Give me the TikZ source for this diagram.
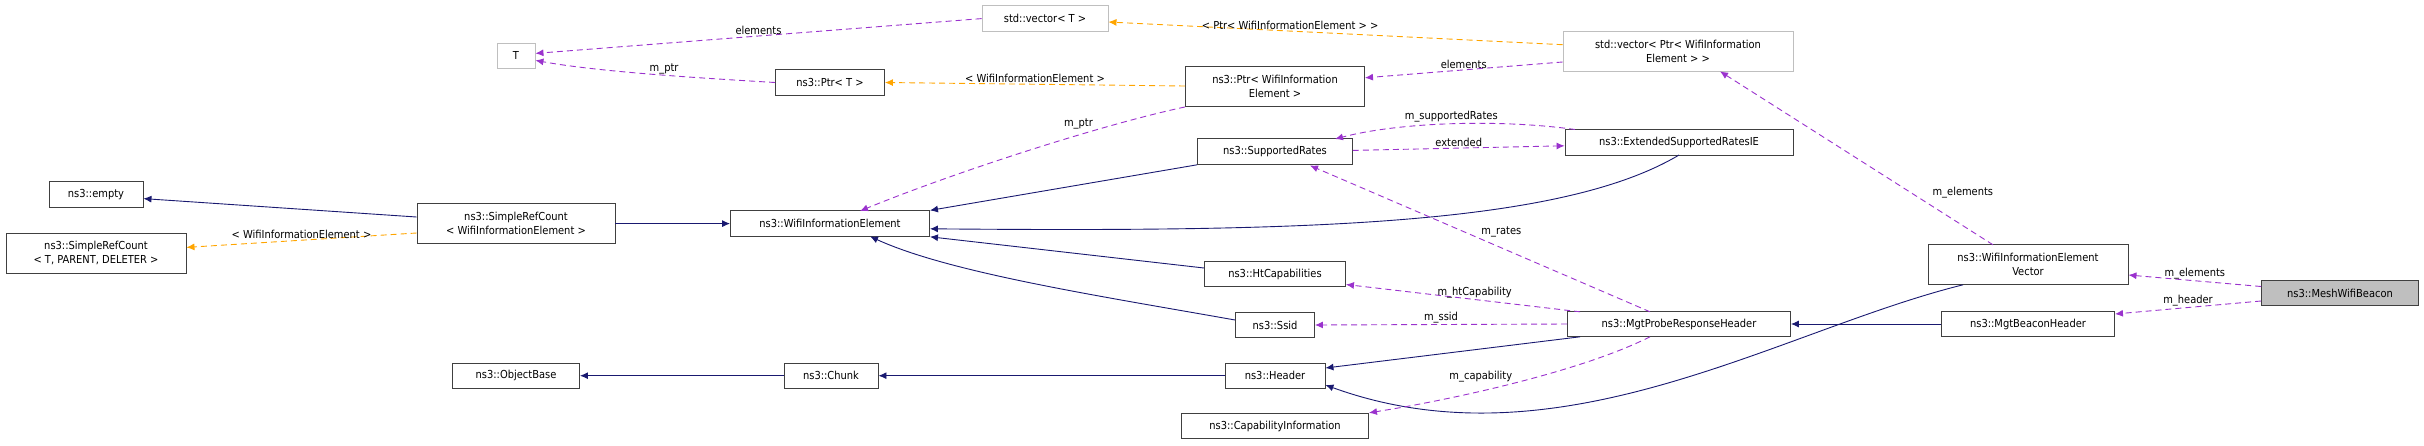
\documentclass[tikz,border=0pt]{standalone}
\usepackage{fontspec}
\setmainfont{DejaVu Sans Condensed}
\usetikzlibrary{arrows.meta}
\definecolor{inh}{HTML}{191970}
\definecolor{use}{HTML}{9A32CD}
\definecolor{tpl}{HTML}{FFA500}
\begin{document}
\begin{tikzpicture}[x=1pt,y=-1pt,
  every node/.style={font=\fontsize{11}{14}\selectfont},
  box/.style={draw=black!75,line width=0.9pt,fill=white,align=center,inner sep=0pt},
  gbox/.style={box,draw=black!25},
  inh/.style={draw=inh,line width=0.9pt,-{Latex[length=8pt,width=7pt]}},
  use/.style={draw=use,line width=0.9pt,dash pattern=on 6pt off 4pt,-{Latex[length=8pt,width=7pt]}},
  tpl/.style={draw=tpl,line width=0.9pt,dash pattern=on 6pt off 4pt,-{Latex[length=8pt,width=7pt]}},
  lab/.style={inner sep=1pt}]
\useasboundingbox (0,0) rectangle (2424,445);
\newcommand{\bx}[6]{\node[#1,minimum width=#4pt,minimum height=#5pt] (#2) at (#3) {#6};}
\bx{gbox}{T}{516,55.7}{38}{25.5}{T}
\bx{box}{ptrT}{830,82.5}{109}{25.5}{ns3::Ptr< T >}
\bx{box}{empty}{96,194.5}{94}{25.5}{ns3::empty}
\bx{box}{srcT}{96,253}{180}{40}{ns3::SimpleRefCount\\< T, PARENT, DELETER >}
\bx{box}{srcW}{516,223.6}{198}{40}{ns3::SimpleRefCount\\< WifiInformationElement >}
\bx{box}{wie}{830,223.6}{199}{25.5}{ns3::WifiInformationElement}
\bx{box}{ob}{516,375.7}{127}{25.5}{ns3::ObjectBase}
\bx{box}{chunk}{831,375.7}{94}{25.5}{ns3::Chunk}
\bx{gbox}{vecT}{1045,18.6}{126}{25.5}{std::vector< T >}
\bx{box}{ptrW}{1275,86.5}{179}{40}{ns3::Ptr< WifiInformation\\Element >}
\bx{gbox}{vecP}{1678,51.7}{230}{40}{std::vector< Ptr< WifiInformation\\Element > >}
\bx{box}{sr}{1275,151.6}{155}{25.5}{ns3::SupportedRates}
\bx{box}{esr}{1679,142.3}{228}{25.5}{ns3::ExtendedSupportedRatesIE}
\bx{box}{ht}{1275,274}{141}{25.5}{ns3::HtCapabilities}
\bx{box}{ssid}{1275,325}{79}{25.5}{ns3::Ssid}
\bx{box}{hdr}{1275,375.7}{100}{25.5}{ns3::Header}
\bx{box}{cap}{1275,426}{187}{25.5}{ns3::CapabilityInformation}
\bx{box}{mprh}{1679,324}{223}{25.5}{ns3::MgtProbeResponseHeader}
\bx{box}{wiev}{2028,264.8}{200}{40}{ns3::WifiInformationElement\\Vector}
\bx{box}{mbh}{2028,324}{173}{25.5}{ns3::MgtBeaconHeader}
\node[box,fill=black!25,minimum width=157pt,minimum height=25.5pt] (mwb) at (2340,293) {ns3::MeshWifiBeacon};
% inheritance
\draw[inh] (srcW.west|-0,217) -- (empty.east|-0,198.6);
\draw[inh] (srcW.east|-wie.west) -- (wie.west);
\draw[inh] (sr.south west) -- (wie.north east);
\draw[inh] (esr.south|-0,155) .. controls (1560,226) and (1300,232) .. (wie.east|-0,228.8);
\draw[inh] (ht.west|-0,268) -- (wie.south east);
\draw[inh] (ssid.west|-0,320) .. controls (1100,296) and (950,273) .. (870,236.4);
\draw[inh] (chunk.west) -- (ob.east);
\draw[inh] (hdr.west) -- (chunk.east);
\draw[inh] (1580,336.8) -- (hdr.east|-0,368);
\draw[inh] (1963,284.8) .. controls (1780,330) and (1560,470) .. (hdr.east|-0,385);
\draw[inh] (mbh.west) -- (mprh.east|-mbh.west);
% usage
\draw[use] (vecT.west) -- node[lab,above]{elements} (T.east|-0,53.4);
\draw[use] (ptrT.west) .. controls (700,78) and (600,72) .. node[lab,pos=0.45,above]{m\_ptr} (T.east|-0,60.4);
\draw[use] (ptrW.south west) .. controls (1100,125) and (950,174) .. node[lab,pos=0.3,above left]{m\_ptr} (860,211);
\draw[use] (vecP.west|-0,62) -- node[lab,above]{elements} (ptrW.east|-0,77.8);
\draw[use] (1575,129.5) .. controls (1500,119) and (1400,122) .. node[lab,above]{m\_supportedRates} (1335,139);
\draw[use] (sr.east|-0,150.4) -- node[lab,above]{extended} (esr.west|-0,145.8);
\draw[use] (1650,311.8) -- node[lab,pos=0.5,above right]{m\_rates} (1310,165.5);
\draw[use] (1580,311.8) -- node[lab,pos=0.45,above]{m\_htCapability} (ht.east|-0,284.5);
\draw[use] (mprh.west) -- node[lab,above]{m\_ssid} (ssid.east);
\draw[use] (1650,336.8) .. controls (1580,372) and (1450,400) .. node[lab,pos=0.5,above left]{m\_capability} (cap.north east);
\draw[use] (1993,244.8) -- node[lab,pos=0.3,right=20pt]{m\_elements} (1720,71.4);
\draw[use] (mwb.west|-0,286.5) -- node[lab,above]{m\_elements} (wiev.east|-0,275);
\draw[use] (mwb.west|-0,301) -- node[lab,above]{m\_header} (mbh.east|-0,314);
% templates
\draw[tpl] (ptrW.west|-0,86) -- node[lab,above]{< WifiInformationElement >} (ptrT.east);
\draw[tpl] (vecP.west|-0,44.7) -- node[lab,above,pos=0.6]{< Ptr< WifiInformationElement > >} (vecT.east|-0,22);
\draw[tpl] (srcW.west|-0,233) -- node[lab,above]{< WifiInformationElement >} (srcT.east|-0,247.4);
\end{tikzpicture}
\end{document}
